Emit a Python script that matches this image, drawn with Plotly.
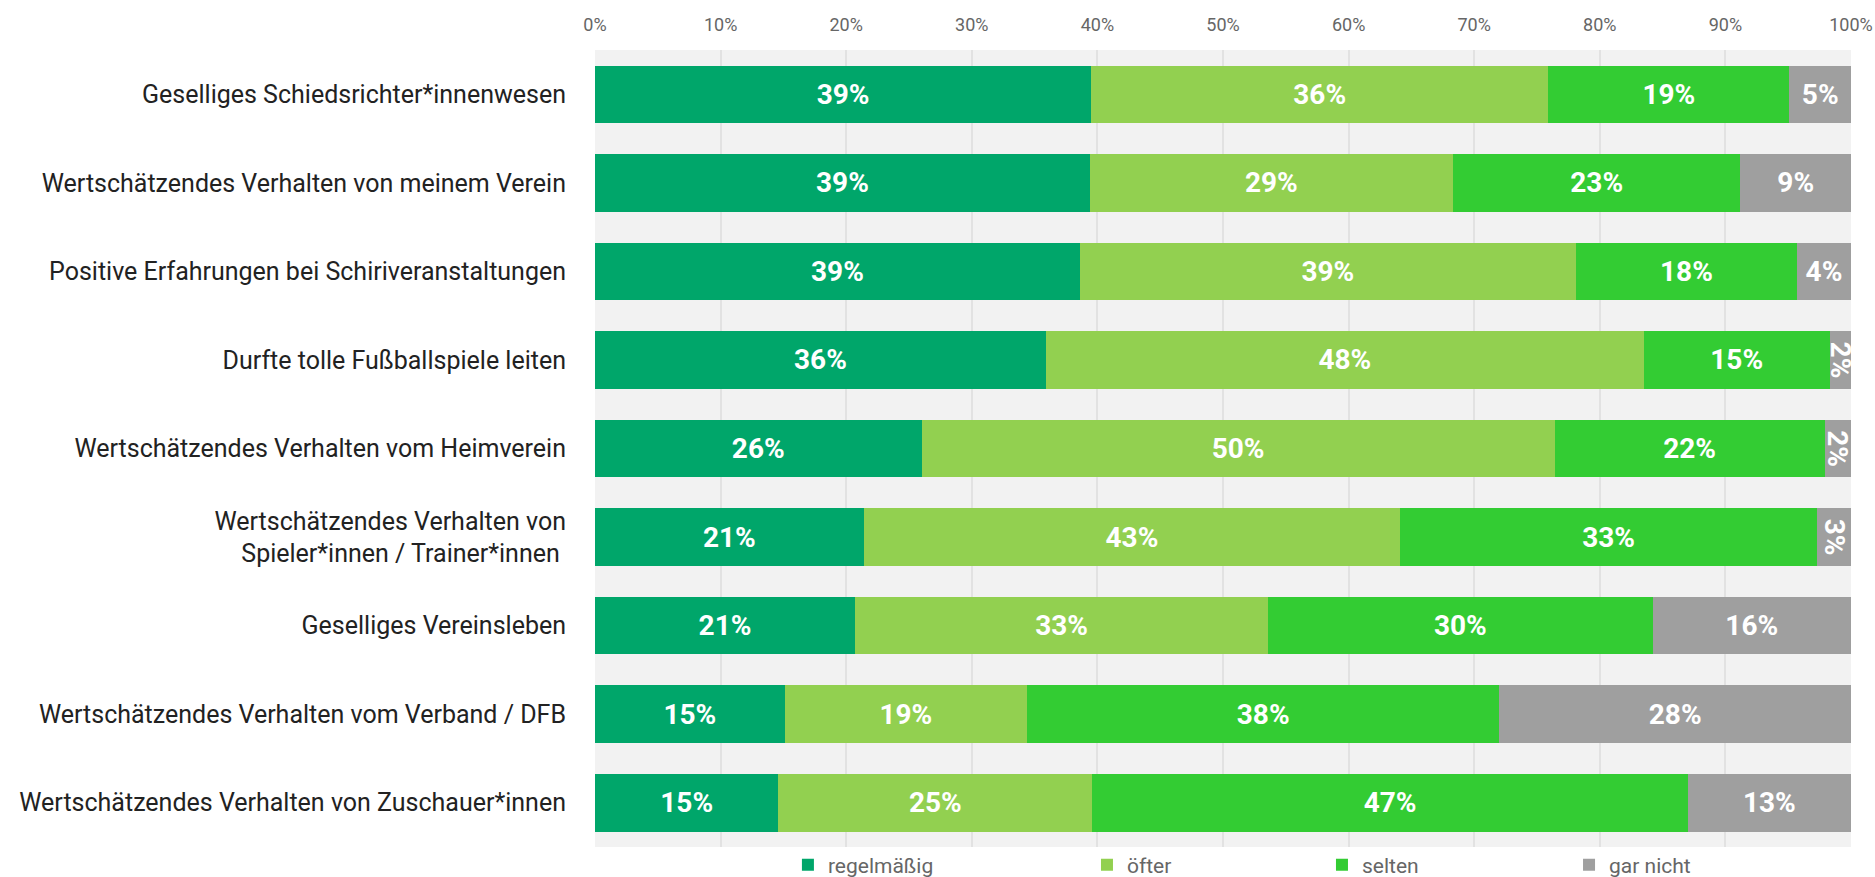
import plotly.graph_objects as go

categories = [
    "Geselliges Schiedsrichter*innenwesen",
    "Wertschätzendes Verhalten von meinem Verein",
    "Positive Erfahrungen bei Schiriveranstaltungen",
    "Durfte tolle Fußballspiele leiten",
    "Wertschätzendes Verhalten vom Heimverein",
    "Wertschätzendes Verhalten von<br>Spieler*innen / Trainer*innen\u00a0",
    "Geselliges Vereinsleben",
    "Wertschätzendes Verhalten vom Verband / DFB",
    "Wertschätzendes Verhalten von Zuschauer*innen",
]

series_names = ["regelmäßig", "öfter", "selten", "gar nicht"]

regelmaessig = [39.5, 39.4, 38.6, 35.9, 26.0, 21.4, 20.7, 15.1, 14.6]
oefter = [36.4, 28.9, 39.5, 47.6, 50.4, 42.7, 32.9, 19.3, 25.0]
selten = [19.2, 22.9, 17.6, 14.8, 21.5, 33.2, 30.6, 37.6, 47.4]
gar_nicht = [4.9, 8.8, 4.3, 1.7, 2.1, 2.7, 15.8, 28.0, 13.0]

regelmaessig_labels = ["39%", "39%", "39%", "36%", "26%", "21%", "21%", "15%", "15%"]
oefter_labels = ["36%", "29%", "39%", "48%", "50%", "43%", "33%", "19%", "25%"]
selten_labels = ["19%", "23%", "18%", "15%", "22%", "33%", "30%", "38%", "47%"]
gar_nicht_labels = ["5%", "9%", "4%", "2%", "2%", "3%", "16%", "28%", "13%"]

tick_vals = [0, 10, 20, 30, 40, 50, 60, 70, 80, 90, 100]
tick_text = ["0%", "10%", "20%", "30%", "40%", "50%", "60%", "70%", "80%", "90%", "100%"]

colors = ["#00A66A", "#92D050", "#33CC33", "#9F9F9F"]

FONT = "Roboto, DejaVu Sans, sans-serif"

values = [regelmaessig, oefter, selten, gar_nicht]
labels = [regelmaessig_labels, oefter_labels, selten_labels, gar_nicht_labels]
legend_ids = ["legend", "legend2", "legend3", "legend4"]
legend_x = [0.1536, 0.3917, 0.5788, 0.7755]

fig = go.Figure()
for name, vals, labs, col, lid in zip(series_names, values, labels, colors, legend_ids):
    fig.add_trace(go.Bar(
        y=categories,
        x=vals,
        name=name,
        orientation="h",
        legend=lid,
        marker=dict(color=col, line=dict(width=0)),
        text=labs,
        textposition="inside",
        insidetextanchor="middle",
        constraintext="none",
        textfont=dict(family=FONT, size=28, color="white", weight="bold"),
        hoverinfo="x+y+name",
    ))

legend_layout = {}
for lid, lx in zip(legend_ids, legend_x):
    legend_layout[lid] = dict(
        orientation="h",
        x=lx,
        xanchor="left",
        y=-0.0226,
        yanchor="middle",
        itemwidth=30,
        font=dict(family=FONT, size=21, color="#666666"),
        bgcolor="rgba(0,0,0,0)",
    )

fig.update_layout(
    barmode="stack",
    bargap=0.35,
    width=1875,
    height=877,
    paper_bgcolor="white",
    plot_bgcolor="#F2F2F2",
    margin=dict(l=595, r=24, t=50, b=30, autoexpand=False),
    font=dict(family=FONT, color="#222222"),
    showlegend=True,
    xaxis=dict(
        side="top",
        range=[0, 100],
        tickvals=tick_vals,
        ticktext=tick_text,
        showgrid=True,
        gridcolor="#E2E2E2",
        gridwidth=1.5,
        zeroline=False,
        showline=False,
        ticks="",
        ticklabelstandoff=14,
        tickfont=dict(family=FONT, size=18, color="#666666"),
        fixedrange=True,
    ),
    yaxis=dict(
        autorange="reversed",
        showgrid=False,
        zeroline=False,
        showline=False,
        ticks="",
        ticklabelstandoff=28,
        tickfont=dict(family=FONT, size=25, color="#222222"),
        fixedrange=True,
    ),
    **legend_layout,
)

fig.write_html(
    "out.html",
    config={"displayModeBar": False},
    post_script="document.body.style.margin='0';document.body.style.overflow='hidden';",
)
